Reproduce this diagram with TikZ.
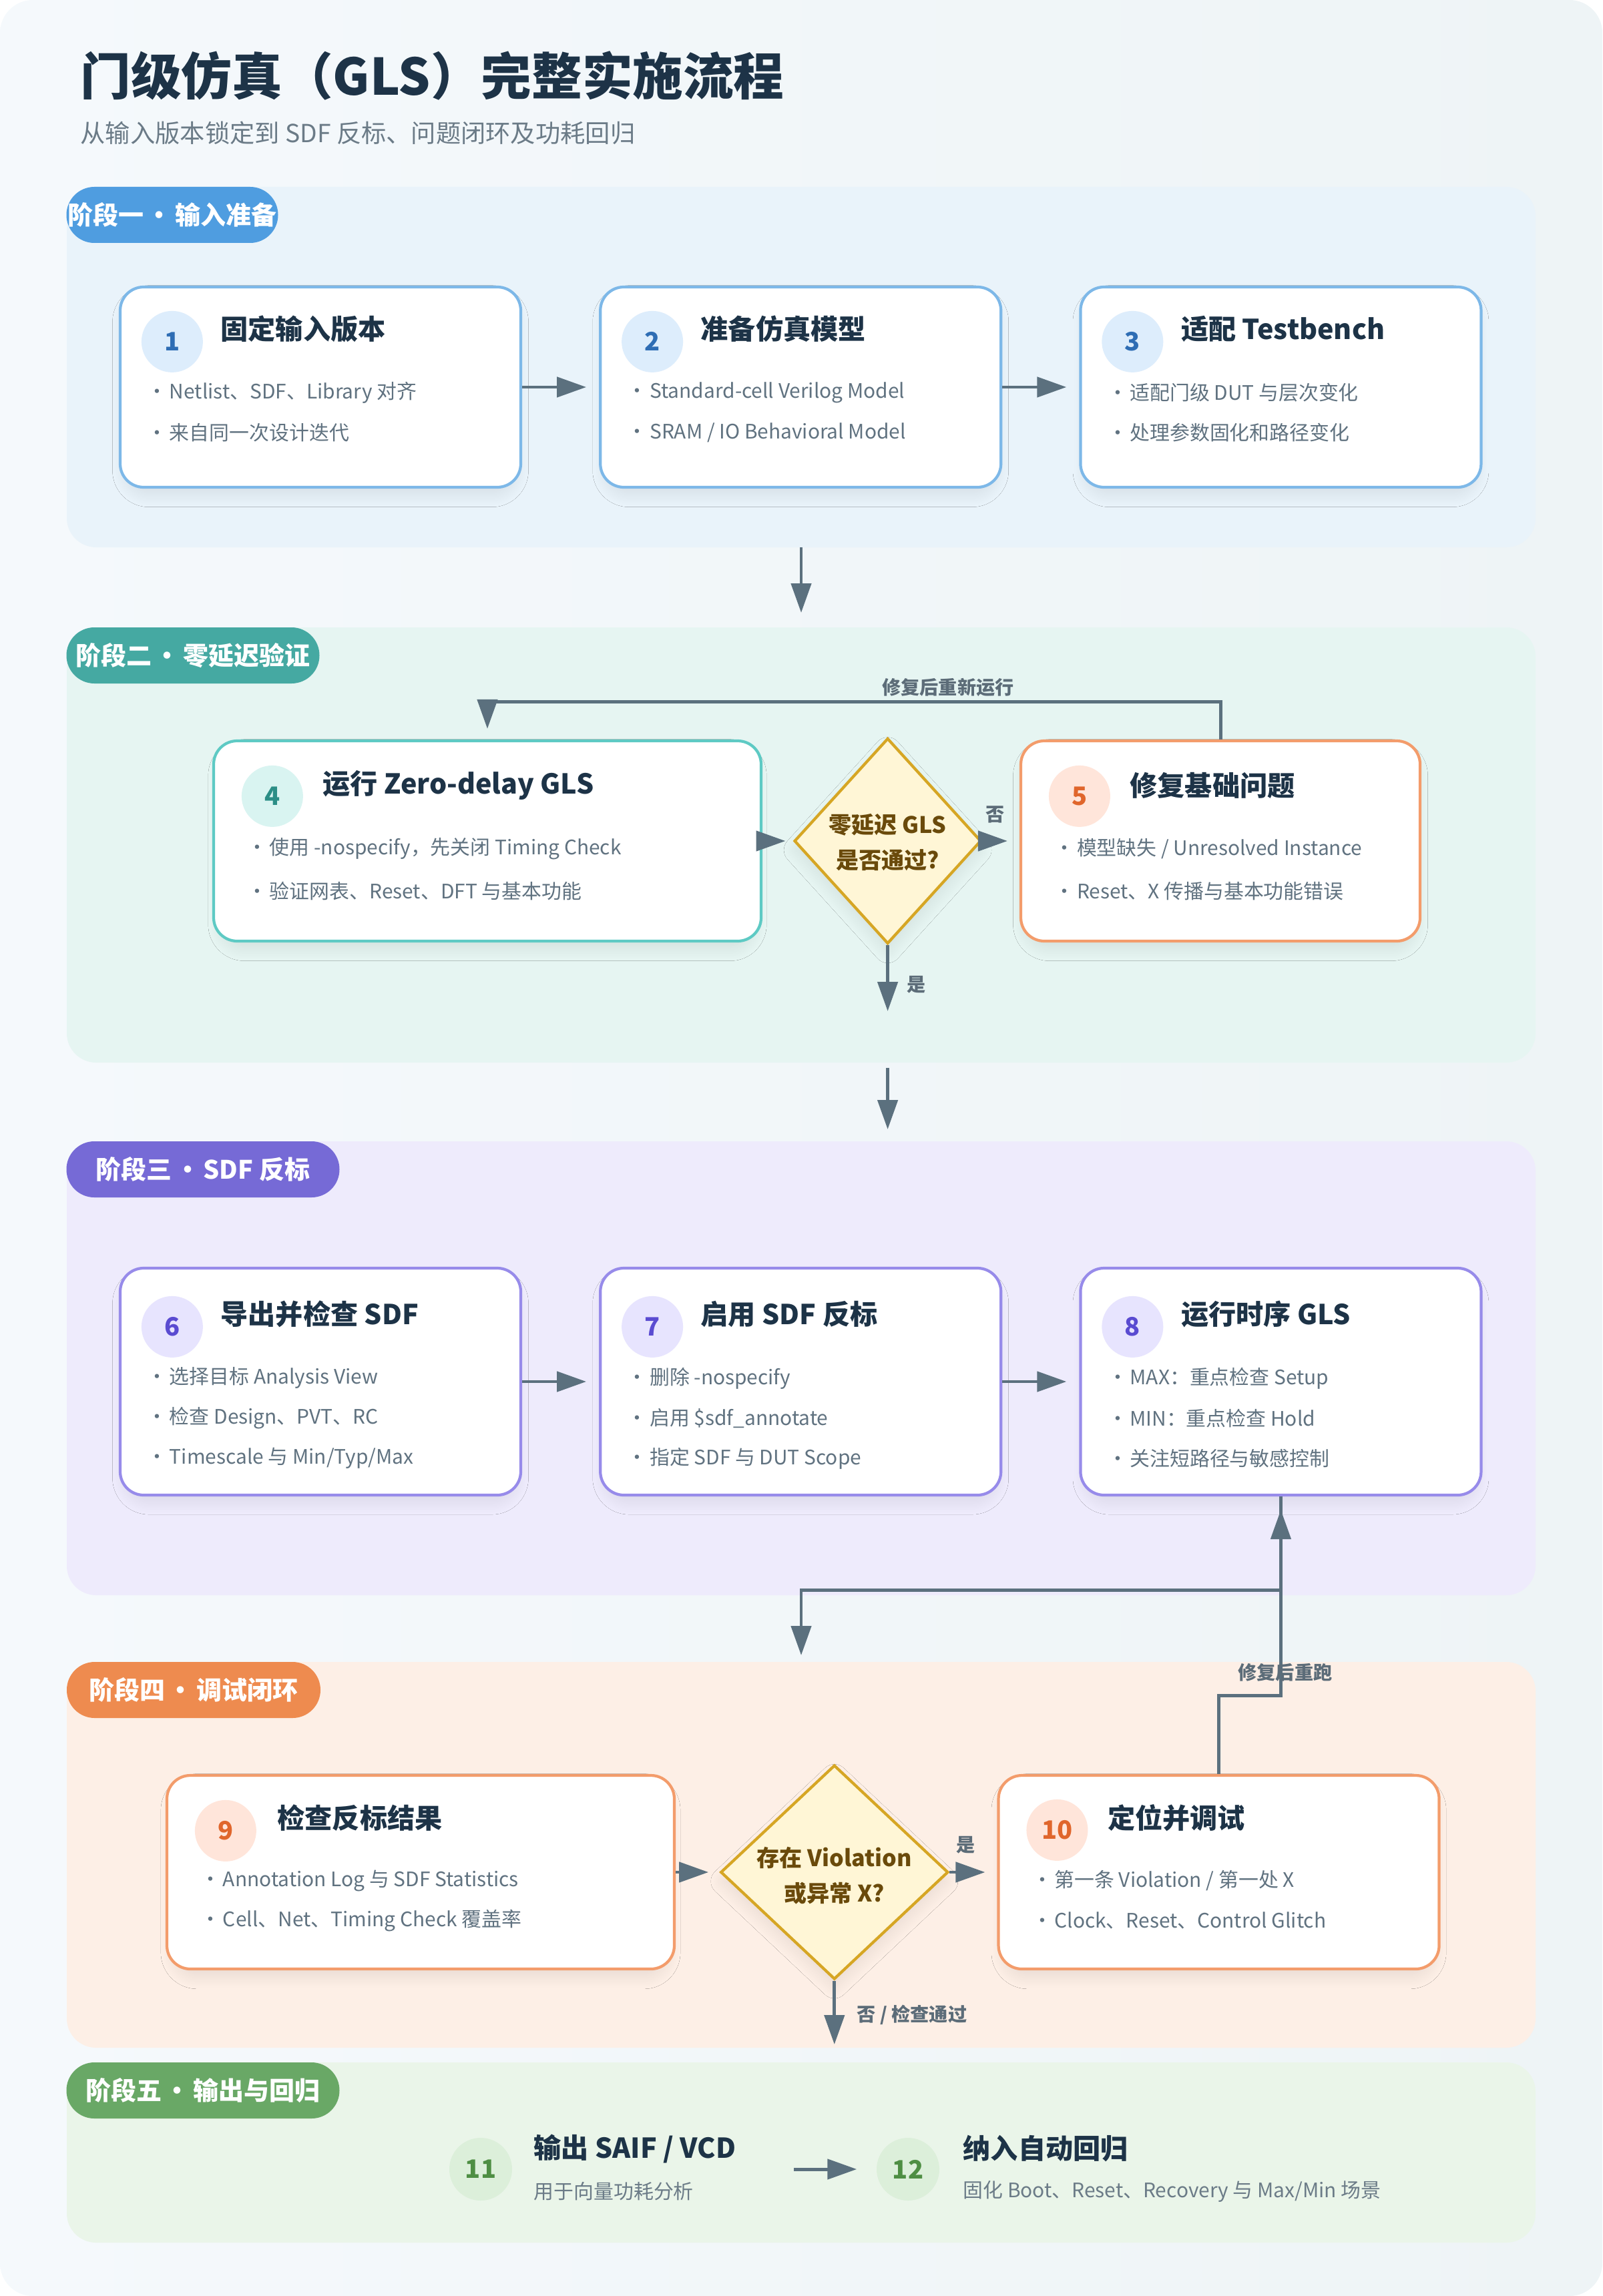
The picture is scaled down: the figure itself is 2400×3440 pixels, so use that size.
\documentclass[tikz,border=0pt]{standalone}
\usepackage{fontspec}
\setmainfont{Noto Sans CJK SC}
\usetikzlibrary{positioning, calc, arrows.meta, shapes.geometric, shadows.blur}

\definecolor{bgl}{HTML}{F5F9FC}
\definecolor{bgr}{HTML}{EEF4F6}
\definecolor{ink}{HTML}{1D3347}
\definecolor{subc}{HTML}{6B7B87}
\definecolor{itemc}{HTML}{607280}
\definecolor{lblc}{HTML}{5C6C78}
\definecolor{arrowc}{HTML}{5B707E}
% stage colours
\definecolor{p1f}{HTML}{E9F3FA}
\definecolor{blue1}{HTML}{4F9DE0}
\definecolor{blue2}{HTML}{7DB8E8}
\definecolor{blue3}{HTML}{DDEDFC}
\definecolor{blue4}{HTML}{2E6DB4}
\definecolor{p2f}{HTML}{E6F5F2}
\definecolor{teal1}{HTML}{45A9A2}
\definecolor{teal2}{HTML}{5ECAC4}
\definecolor{teal3}{HTML}{D9F4F1}
\definecolor{teal4}{HTML}{2B8E86}
\definecolor{p3f}{HTML}{EEEBFC}
\definecolor{purp1}{HTML}{766AD6}
\definecolor{purp2}{HTML}{978BEA}
\definecolor{purp3}{HTML}{E7E4FE}
\definecolor{purp4}{HTML}{5A4BD1}
\definecolor{p4f}{HTML}{FDEFE6}
\definecolor{orng1}{HTML}{EE8B4F}
\definecolor{orng2}{HTML}{F39C6B}
\definecolor{orng3}{HTML}{FFE5DA}
\definecolor{orng4}{HTML}{E0662C}
\definecolor{p5f}{HTML}{EAF5E9}
\definecolor{grn1}{HTML}{69A866}
\definecolor{grn3}{HTML}{DCEFDA}
\definecolor{grn4}{HTML}{4E8E43}
\definecolor{goldf}{HTML}{FFF6D6}
\definecolor{goldc}{HTML}{D6A624}
\definecolor{brownc}{HTML}{6A4A0B}

\newlength\upx
\setlength\upx{0.01cm}
\newcommand\sepdot{\hspace{0.12em}·\hspace{0.12em}}

\tikzset{
  flow/.style={draw=arrowc, line width=1.4pt, -{Triangle[length=12.5pt, width=8.5pt]}},
  panel/.style={draw=none, rounded corners=12.5pt, minimum width=2200\upx, inner sep=0pt, outer sep=0pt},
  pill/.style={rounded corners=11.9pt, minimum height=84\upx, inner sep=0pt, text=white,
    font=\fontsize{10.8}{13}\selectfont\bfseries},
  soft/.style={blur shadow={shadow xshift=0pt, shadow yshift=-4pt, shadow scale=0.97,
    shadow blur radius=6pt, shadow blur steps=12, shadow opacity=9}},
  card/.style={draw=#1, line width=1.2pt, fill=white, rounded corners=10pt,
    minimum width=600\upx, minimum height=300\upx, inner sep=0pt, soft},
  num/.style={circle, minimum size=92\upx, inner sep=0pt, font=\fontsize{10.8}{12}\selectfont\bfseries},
  ttl/.style={anchor=west, inner sep=0pt, text=ink, font=\fontsize{11.7}{14}\selectfont\bfseries},
  itm/.style={anchor=west, inner sep=0pt, text=itemc, font=\fontsize{8.5}{10}\selectfont},
  dia/.style={diamond, draw=goldc, line width=1.2pt, fill=goldf, inner sep=0pt, soft},
  dtxt/.style={align=center, text=brownc, inner sep=0pt, font=\fontsize{9.7}{15}\selectfont\bfseries},
  lbl/.style={text=lblc, inner sep=0pt, font=\fontsize{8}{10}\selectfont\bfseries},
}

\begin{document}
\begin{tikzpicture}[x=0.01cm, y=-0.01cm]
  \useasboundingbox (0,0) rectangle (2400,3440);
  \shade[left color=bgl, right color=bgr, rounded corners=14pt] (0,0) rectangle (2400,3440);

  \node[anchor=west, inner sep=0pt, text=ink, font=\fontsize{21.5}{26}\selectfont\bfseries] (title) at (120,113)
    {门级仿真（GLS）完整实施流程};
  \node[anchor=west, inner sep=0pt, text=subc, font=\fontsize{10.6}{13}\selectfont] (subtitle) at (120,199)
    {从输入版本锁定到 SDF 反标、问题闭环及功耗回归};

  % stage panels
  \node[panel, fill=p1f, minimum height=540\upx] (p1) at (1200,550) {};
  \node[panel, fill=p2f, minimum height=652\upx] (p2) at (1200,1266) {};
  \node[panel, fill=p3f, minimum height=680\upx] (p3) at (1200,2050) {};
  \node[panel, fill=p4f, minimum height=578\upx] (p4) at (1200,2779) {};
  \node[panel, fill=p5f, minimum height=270\upx] (p5) at (1200,3225) {};

  \node[pill, fill=blue1, minimum width=317\upx] (s1) at (258,322) {阶段一\sepdot 输入准备};
  \node[pill, fill=teal1, minimum width=379\upx] (s2) at (289,982) {阶段二\sepdot 零延迟验证};
  \node[pill, fill=purp1, minimum width=409\upx] (s3) at (304,1752) {阶段三\sepdot SDF 反标};
  \node[pill, fill=orng1, minimum width=380\upx] (s4) at (290,2532) {阶段四\sepdot 调试闭环};
  \node[pill, fill=grn1, minimum width=409\upx] (s5) at (304,3132) {阶段五\sepdot 输出与回归};

  % stage 1: input
  \node[card=blue2] (b1) at (480,580) {};
  \node[card=blue2, right=32.7pt of b1] (b2) {};
  \node[card=blue2, right=32.7pt of b2] (b3) {};
  \foreach \b/\n/\t in {b1/1/固定输入版本, b2/2/准备仿真模型, b3/3/适配 Testbench} {
    \node[num, fill=blue3, text=blue4] (n\n) at ([shift={(80,84)}]\b.north west) {\n};
    \node[ttl] (t\n) at ([shift={(152,65)}]\b.north west) {\t};
  }
  \foreach \t [count=\i] in {{Netlist、SDF、Library 对齐}, {来自同一次设计迭代}}
    \node[itm] (b1l\i) at ([shift={(42,100+60*\i)}]b1.north west) {•\hspace{1pt}\t};
  \foreach \t [count=\i] in {{Standard-cell Verilog Model}, {SRAM / IO Behavioral Model}}
    \node[itm] (b2l\i) at ([shift={(42,100+60*\i)}]b2.north west) {•\hspace{1pt}\t};
  \foreach \t [count=\i] in {{适配门级 DUT 与层次变化}, {处理参数固化和路径变化}}
    \node[itm] (b3l\i) at ([shift={(42,100+60*\i)}]b3.north west) {•\hspace{1pt}\t};

  \draw[flow, shorten >=19\upx] (b1) -- (b2);
  \draw[flow, shorten >=19\upx] (b2) -- (b3);
  \draw[flow, shorten >=22\upx] (p1.south) -- (p2.north);

  % stage 2: zero delay
  \node[card=teal2, minimum width=820\upx] (b4) at (730,1260) {};
  \node[dia, minimum width=280\upx, minimum height=308\upx, right=12.9pt of b4] (d1) {};
  \node[dtxt] (d1t) at ([yshift=-2\upx]d1.center) {零延迟 GLS\\是否通过?};
  \node[card=orng2, minimum width=598\upx, right=15.7pt of d1] (b5) {};
  \node[num, fill=teal3, text=teal4] (n4) at ([shift={(90,85)}]b4.north west) {4};
  \node[ttl] (t4) at ([shift={(165,69)}]b4.north west) {运行 Zero-delay GLS};
  \node[num, fill=orng3, text=orng4] (n5) at ([shift={(90,85)}]b5.north west) {5};
  \node[ttl] (t5) at ([shift={(165,69)}]b5.north west) {修复基础问题};
  \foreach \t [count=\i] in {{使用 -nospecify，先关闭 Timing Check}, {验证网表、Reset、DFT 与基本功能}}
    \node[itm] (b4l\i) at ([shift={(52,101+63*\i)}]b4.north west) {•\hspace{1pt}\t};
  \foreach \t [count=\i] in {{模型缺失 / Unresolved Instance}, {Reset、X 传播与基本功能错误}}
    \node[itm] (b5l\i) at ([shift={(52,101+63*\i)}]b5.north west) {•\hspace{1pt}\t};

  \draw[flow, shorten >=11\upx] (b4) -- (d1);
  \draw[flow, shorten >=18\upx] (d1) -- (b5);
  \node[lbl] (no1) at (1491,1220) {否};
  \draw[flow, shorten >=16\upx] (b5.north) -- ++(0,-56) -| (b4.north);
  \node[lbl] (fix1) at (1420,1030) {修复后重新运行};
  \draw[flow, shorten >=77\upx] (d1.south) -- (d1.south |- p2.south);
  \node[lbl] (yes1) at (1373,1475) {是};
  \draw[flow, shorten <=8\upx, shorten >=18\upx] (d1.south |- p2.south) -- (d1.south |- p3.north);

  % stage 3: sdf annotation
  \node[card=purp2, minimum height=340\upx] (b6) at (480,2070) {};
  \node[card=purp2, minimum height=340\upx, right=32.7pt of b6] (b7) {};
  \node[card=purp2, minimum height=340\upx, right=32.7pt of b7] (b8) {};
  \foreach \b/\n/\t in {b6/6/导出并检查 SDF, b7/7/启用 SDF 反标, b8/8/运行时序 GLS} {
    \node[num, fill=purp3, text=purp4] (n\n) at ([shift={(80,90)}]\b.north west) {\n};
    \node[ttl] (t\n) at ([shift={(152,71)}]\b.north west) {\t};
  }
  \foreach \t [count=\i] in {{选择目标 Analysis View}, {检查 Design、PVT、RC}, {Timescale 与 Min/Typ/Max}}
    \node[itm] (b6l\i) at ([shift={(42,107+60*\i)}]b6.north west) {•\hspace{1pt}\t};
  \foreach \t [count=\i] in {{删除 -nospecify}, {启用 \$sdf\_annotate}, {指定 SDF 与 DUT Scope}}
    \node[itm] (b7l\i) at ([shift={(42,107+60*\i)}]b7.north west) {•\hspace{1pt}\t};
  \foreach \t [count=\i] in {{MAX：重点检查 Setup}, {MIN：重点检查 Hold}, {关注短路径与敏感控制}}
    \node[itm] (b8l\i) at ([shift={(42,107+60*\i)}]b8.north west) {•\hspace{1pt}\t};

  \draw[flow, shorten >=19\upx] (b6) -- (b7);
  \draw[flow, shorten >=19\upx] (b7) -- (b8);
  \draw[flow, shorten >=10\upx] (b8.south) -- ++(0,140) -| (p4.north);

  % stage 4: debug loop
  \node[card=orng2, minimum width=760\upx, minimum height=290\upx] (b9) at (630,2805) {};
  \node[dia, minimum width=341\upx, minimum height=321\upx, right=18.5pt of b9] (d2) {};
  \node[dtxt] (d2t) at ([yshift=-5\upx]d2.center) {存在 Violation\\或异常 X?};
  \node[card=orng2, minimum width=660\upx, minimum height=290\upx, right=20.2pt of d2] (b10) {};
  \node[num, fill=orng3, text=orng4] (n9) at ([shift={(90,85)}]b9.north west) {9};
  \node[ttl] (t9) at ([shift={(167,66)}]b9.north west) {检查反标结果};
  \node[num, fill=orng3, text=orng4] (n10) at ([shift={(90,84)}]b10.north west) {10};
  \node[ttl] (t10) at ([shift={(165,66)}]b10.north west) {定位并调试};
  \foreach \t [count=\i] in {{Annotation Log 与 SDF Statistics}, {Cell、Net、Timing Check 覆盖率}}
    \node[itm] (b9l\i) at ([shift={(52,100+60*\i)}]b9.north west) {•\hspace{1pt}\t};
  \foreach \t [count=\i] in {{第一条 Violation / 第一处 X}, {Clock、Reset、Control Glitch}}
    \node[itm] (b10l\i) at ([shift={(52,100+60*\i)}]b10.north west) {•\hspace{1pt}\t};

  \draw[flow, shorten >=16\upx] (b9) -- (d2);
  \draw[flow, shorten >=18\upx] (d2) -- (b10);
  \node[lbl] (yes2) at (1447,2764) {是};
  \draw[flow, shorten >=20\upx] (b10.north) -- ++(0,-117) -| (b8.south);
  \node[lbl] (fix2) at (1925,2506) {修复后重跑};
  \draw[flow, shorten >=27\upx] (d2.south) -- (d2.south |- p5.north);
  \node[lbl] (pass) at (1366,3019) {否 / 检查通过};

  % stage 5: output
  \node[num, minimum size=94\upx, fill=grn3, text=grn4] (c11) at (720,3250) {11};
  \node[ttl] (t11) at (799,3219) {输出 SAIF / VCD};
  \node[itm, text=subc] (u11) at (799,3283) {用于向量功耗分析};
  \node[num, minimum size=94\upx, fill=grn3, text=grn4] (c12) at (1360,3250) {12};
  \node[ttl] (t12) at (1442,3219) {纳入自动回归};
  \node[itm, text=subc] (u12) at (1442,3283) {固化 Boot、Reset、Recovery 与 Max/Min 场景};
  \coordinate (a11) at (1189,3250);
  \draw[flow, shorten >=29\upx] (a11) -- (c12);

\end{tikzpicture}
\end{document}
